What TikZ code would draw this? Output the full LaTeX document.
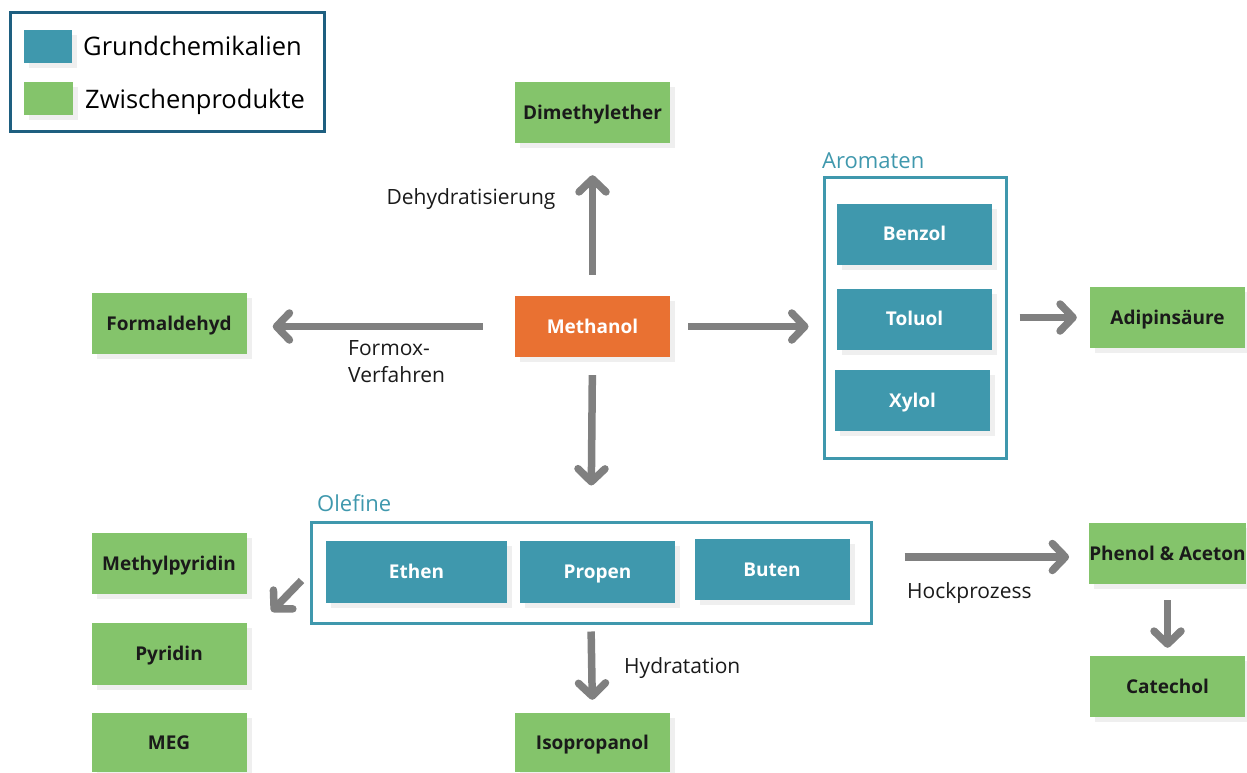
\documentclass[tikz,border=0pt]{standalone}
\usepackage{fontspec}
\setmainfont{Open Sans}
\usetikzlibrary{arrows.meta,shadows}
\definecolor{teal1}{HTML}{3F98AD}
\definecolor{green1}{HTML}{84C46B}
\definecolor{orange1}{HTML}{E97132}
\definecolor{legblue}{HTML}{1E5F80}
\definecolor{arrgray}{HTML}{808080}
\definecolor{shad}{HTML}{EFEFEF}
\definecolor{txtdark}{HTML}{1A1A1A}
\tikzset{
  shbox/.style={inner sep=0pt, font=\bfseries\fontsize{19}{22}\selectfont,
    text height=13.5pt, text depth=0pt,
    minimum width=155pt, minimum height=61pt,
    general shadow={shadow xshift=5pt, shadow yshift=-5pt, fill=shad}},
  greenbox/.style={shbox, fill=green1, text=txtdark},
  tealbox/.style={shbox, fill=teal1, text=white},
  orangebox/.style={shbox, fill=orange1, text=white},
  groupbox/.style={draw=teal1, line width=3pt, fill=white, inner sep=0pt},
  grouplabel/.style={text=teal1, font=\fontsize{22}{26}\selectfont, anchor=base west, inner sep=0pt},
  arr/.style={draw=arrgray, line width=7.5pt,
    -{Straight Barb[length=13pt, width=27pt, round]}},
  lbl/.style={font=\fontsize{21}{27}\selectfont, text=txtdark, inner sep=0pt},
  legtxt/.style={font=\fontsize{25.5}{30}\selectfont, text=black, anchor=base west, inner sep=0pt},
}
\begin{document}
\begin{tikzpicture}[x=1pt,y=-1pt]
\useasboundingbox (0,0) rectangle (1247,773);
% legend
\node[draw=legblue, line width=3pt, minimum width=314pt, minimum height=119pt, inner sep=0pt] (legend) at (167,72.5) {};
\node[shbox, fill=teal1, minimum width=48pt, minimum height=33pt] (lteal) at (48,46.5) {};
\node[shbox, fill=green1, minimum width=49pt, minimum height=33pt] (lgreen) at (48.5,98.5) {};
\node[legtxt] (ltxt1) at (83,56) {Grundchemikalien};
\node[legtxt] (ltxt2) at (85,109) {Zwischenprodukte};

% group boxes
\node[groupbox, minimum width=182pt, minimum height=281pt] (aro) at (915,317.5) {};
\node[grouplabel] (arolbl) at (822,168) {Aromaten};
\node[groupbox, minimum width=560pt, minimum height=101pt] (ole) at (591,572.5) {};
\node[grouplabel] (olelbl) at (317,511) {Olefine};

% nodes
\node[greenbox] (dme) at (592.5,112.5) {Dimethylether};
\node[orangebox] (meth) at (592.5,326.5) {Methanol};
\node[greenbox] (form) at (169,323.5) {Formaldehyd};
\node[tealbox] (benz) at (914.5,234) {Benzol};
\node[tealbox] (tol) at (914.5,319) {Toluol};
\node[tealbox] (xyl) at (912.5,400.5) {Xylol};
\node[greenbox] (adip) at (1167.5,317.5) {Adipinsäure};
\node[tealbox, minimum width=181pt, minimum height=62pt] (ethen) at (416.5,572) {Ethen};
\node[tealbox, minimum height=62pt] (prop) at (597.5,572) {Propen};
\node[tealbox] (but) at (772,569.5) {Buten};
\node[greenbox] (mpyr) at (169,563.5) {Methylpyridin};
\node[greenbox, minimum height=62pt] (pyr) at (169,654) {Pyridin};
\node[greenbox, minimum height=59pt] (meg) at (169,742.5) {MEG};
\node[greenbox, minimum height=59pt] (iso) at (592.5,742.5) {Isopropanol};
\node[greenbox] (phen) at (1167.5,553.5) {Phenol \& Aceton};
\node[greenbox] (cat) at (1167.5,686.5) {Catechol};

% arrows
\draw[arr, shorten <=21pt, shorten >=32pt] (meth.north) -- (dme.south);
\draw[arr, shorten <=32pt, shorten >=26pt] (meth.west) -- (meth.west -| form.east);
\draw[arr, shorten <=18pt, shorten >=14pt] (meth.east) -- (meth.east -| aro.west);
\draw[arr, shorten <=18pt, shorten >=35pt] (meth.south) -- (ole.north);
\draw[arr, shorten <=12pt, shorten >=13pt] (aro.east) -- (adip.west);
\draw[arr] (ole.west) ++(-8,8) coordinate (dstart) -- ++(-30,31) coordinate (dend);
\draw[arr, shorten <=32pt, shorten >=20pt] (ole.east |- 0,557) -- (phen.west |- 0,557);
\draw[arr, shorten <=7pt, shorten >=13pt] (ole.south) -- (iso.north);
\draw[arr, shorten <=16pt, shorten >=8pt] (phen.south) -- (cat.north);

% labels
\node[lbl, anchor=base] (l1) at (471,204) {Dehydratisierung};
\node[lbl, anchor=base west] (l2a) at (348,355) {Formox-};
\node[lbl, anchor=base west] (l2b) at (348,382) {Verfahren};
\node[lbl, anchor=base west] (l3) at (907,598) {Hockprozess};
\node[lbl, anchor=base west] (l4) at (624,673) {Hydratation};
\end{tikzpicture}
\end{document}
